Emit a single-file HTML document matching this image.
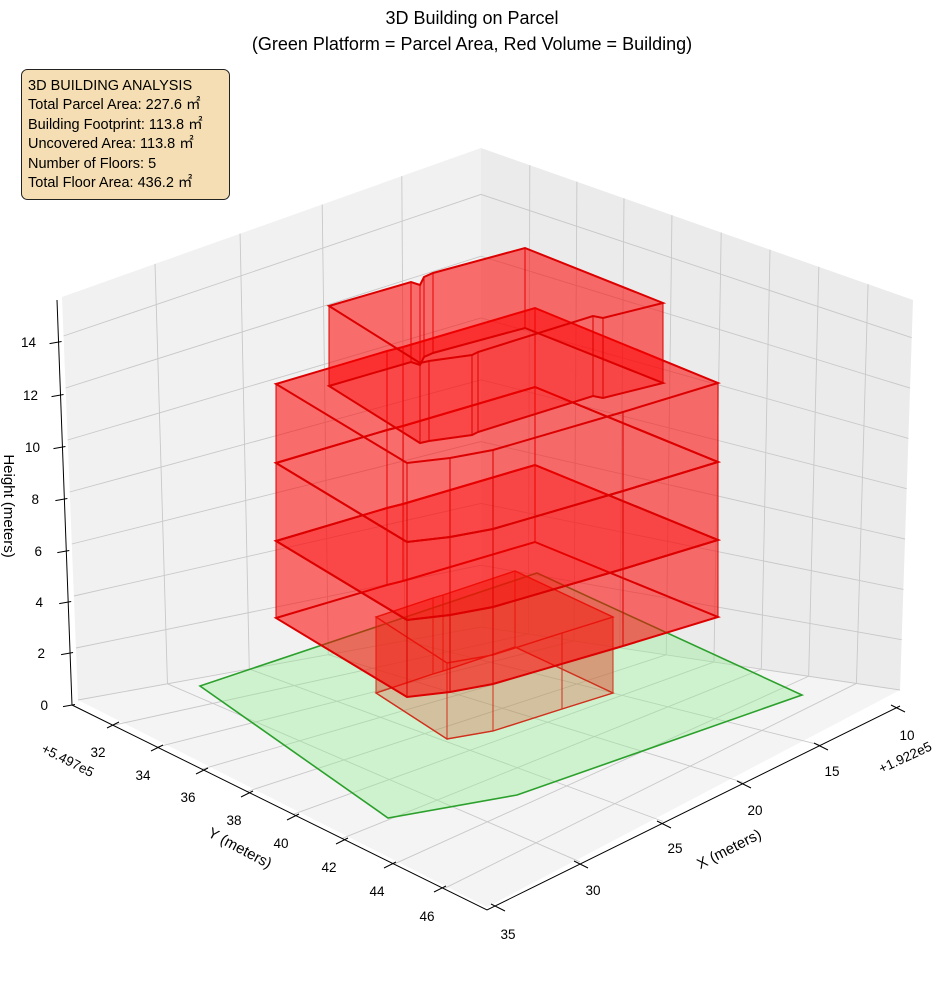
<!DOCTYPE html>
<html><head><meta charset="utf-8"><style>
html,body{margin:0;padding:0;background:#fff;}
svg{display:block;font-family:"Liberation Sans","DejaVu Sans",sans-serif;}
</style></head><body>
<svg id="s" width="944" height="992" viewBox="0 0 944 992" xmlns="http://www.w3.org/2000/svg">
<rect width="944" height="992" fill="#fff"/>
<g id="panes"></g>
<g id="grid" stroke="#c8c8c8" stroke-width="0.9" fill="none"></g>
<polygon points="200,686 537,573 802,695 517,795 388,818" fill="rgba(144,238,144,0.38)" stroke="#2ca02c" stroke-width="1.6"/>
<g id="bld"></g>
<g id="axes" stroke="#000" stroke-width="1" fill="none"></g>
<g id="labels" font-size="13.5" fill="#000"></g>
<text x="472" y="24" font-size="18" text-anchor="middle">3D Building on Parcel</text>
<text x="472" y="50" font-size="18" text-anchor="middle">(Green Platform = Parcel Area, Red Volume = Building)</text>
<rect x="21.5" y="69.5" width="208" height="130" rx="6" fill="#f5deb3" stroke="#222" stroke-width="1"/>
<g font-size="14.5" fill="#000">
<text x="28" y="90">3D BUILDING ANALYSIS</text>
<text x="28" y="109">Total Parcel Area: 227.6 ㎡</text>
<text x="28" y="129">Building Footprint: 113.8 ㎡</text>
<text x="28" y="148">Uncovered Area: 113.8 ㎡</text>
<text x="28" y="168">Number of Floors: 5</text>
<text x="28" y="187">Total Floor Area: 436.2 ㎡</text>
</g>
</svg>
<script>
const NS="http://www.w3.org/2000/svg";
function el(p,t,a,txt){const e=document.createElementNS(NS,t);for(const k in a)e.setAttribute(k,a[k]);if(txt!==undefined)e.textContent=txt;document.getElementById(p).appendChild(e);return e;}
function lerp(a,b,t){return [a[0]+(b[0]-a[0])*t,a[1]+(b[1]-a[1])*t];}
function pts(a){return a.map(p=>p[0].toFixed(1)+","+p[1].toFixed(1)).join(" ");}
const Lb=[78,700],Bb=[481,627],Rb=[900,690],Fb=[487,907],Lt=[62,297],Bt=[481,148],Rt=[913,300];
el("panes","polygon",{points:pts([Lb,Bb,Bt,Lt]),fill:"#f1f1f1"});
el("panes","polygon",{points:pts([Bb,Rb,Rt,Bt]),fill:"#ebebeb"});
el("panes","polygon",{points:pts([Lb,Bb,Rb,Fb]),fill:"#f4f4f4"});
for(let z=0;z<=14;z+=2){const t=z/15.5;
 const pl=lerp(Lb,Lt,t),pb=lerp(Bb,Bt,t),pr=lerp(Rb,Rt,t);
 el("grid","polyline",{points:pts([pl,pb,pr])});}
const xf=[.222,.425,.621,.811], xa=[.225,.426,.620,.806];
xf.forEach((f,i)=>{const b=lerp(Lb,Bb,f),t=lerp(Lt,Bt,f);el("grid","line",{x1:b[0],y1:b[1],x2:t[0],y2:t[1]});
 const fa=lerp(Fb,[900,706],xa[i]);el("grid","line",{x1:b[0],y1:b[1],x2:fa[0],y2:fa[1]});});
const yr=[.113,.222,.331,.442,.556,.669,.782,.896], yf=[.099,.205,.313,.422,.533,.651,.776,.896];
yr.forEach((f,i)=>{const b=lerp(Bb,Rb,f),t=lerp(Bt,Rt,f);el("grid","line",{x1:b[0],y1:b[1],x2:t[0],y2:t[1]});
 const fa=lerp([72,705],[487,910],yf[i]);el("grid","line",{x1:b[0],y1:b[1],x2:fa[0],y2:fa[1]});});
function prism(poly,dy,lw,drawBot,drawTop,FILL,sc){
 const n=poly.length;const bot=poly.map(p=>[p[0],p[1]+dy]);
 if(drawBot) el("bld","polygon",{points:pts(bot),fill:FILL,stroke:"none"});
 for(let i=0;i<n;i++){const a=poly[i],b=poly[(i+1)%n];
  el("bld","polygon",{points:pts([a,b,[b[0],b[1]+dy],[a[0],a[1]+dy]]),fill:FILL,stroke:sc,"stroke-width":1});}
 el("bld","polygon",{points:pts(poly),fill:drawTop?FILL:"none",stroke:sc,"stroke-width":lw});
 el("bld","polygon",{points:pts(bot),fill:"none",stroke:sc,"stroke-width":lw});
}
const G=[[376,617],[433,598],[443,595],[515,571],[613,617],[562,633],[493,655],[447,663]];
prism(G,76,1.4,false,true,"rgba(220,60,30,0.27)","#d0301c");
const F="rgba(255,0,0,0.33)",S="#dd0000";
const P=[[276,384],[387,351],[403,347],[535,308],[718,383],[623,412],[493,450],[450,458],[407,463]];
function sh(p,d){return p.map(q=>[q[0],q[1]+d]);}
prism(sh(P,157),77,2,true,true,F,S);
prism(sh(P,79),78,2,false,false,F,S);
prism(P,79,2,false,true,F,S);
const T=[[329,306],[411,282],[420,285],[424,277],[433,273],[525,248],[663,303],[603,318],[593,316],[478,352],[472,355],[429,361],[420,363]];
prism(T,80,2,false,true,F,S);
el("axes","polyline",{points:"57,300 72,705 487,910 900,706"});
const zt=[[14,342,36],[12,395,38],[10,447,40],[8,499,39],[6,551,42],[4,602,43],[2,653,45],[0,705,48]];
zt.forEach(([v,y,r])=>{const x=57+(y-300)/405*15;
 el("axes","line",{x1:x-9,y1:y+1.6,x2:x+3,y2:y-0.5});
 el("labels","text",{x:r,y:y+5,"text-anchor":"end"},String(v));});
const yt=[[32,113,725,98,752],[34,157,748,143,775],[36,202,771,188,797],[38,247,794,234,820],[40,293,817,281,843],[42,342,841,329,867],[44,390,865,377,891],[46,440,889,427,916]];
yt.forEach(([v,x,y,lx,ly])=>{el("axes","line",{x1:x-6,y1:y+3,x2:x+6,y2:y-3});
 el("labels","text",{x:lx,y:ly+5,"text-anchor":"middle"},String(v));});
const xt=[[10,897,708,907,735],[15,820,746,832,771],[20,743,784,755,810],[25,663,824,675,848],[30,580,864,593,890],[35,497,907,508,934]];
xt.forEach(([v,x,y,lx,ly])=>{el("axes","line",{x1:x-6,y1:y-3,x2:x+8,y2:y+4});
 el("labels","text",{x:lx,y:ly+5,"text-anchor":"middle"},String(v));});
el("labels","text",{x:68,y:765,"text-anchor":"middle",transform:"rotate(27 68 760)"},"+5.497e5");
el("labels","text",{x:905,y:762,"text-anchor":"middle",transform:"rotate(-25 905 757)"},"+1.922e5");
el("labels","text",{x:240,y:853,"text-anchor":"middle","font-size":"15",transform:"rotate(28 240 848)"},"Y (meters)");
el("labels","text",{x:729,y:854,"text-anchor":"middle","font-size":"15",transform:"rotate(-27 729 849)"},"X (meters)");
el("labels","text",{x:0,y:510,"text-anchor":"middle","font-size":"15",transform:"rotate(90 4 510)"},"Height (meters)");
</script>
</body></html>
